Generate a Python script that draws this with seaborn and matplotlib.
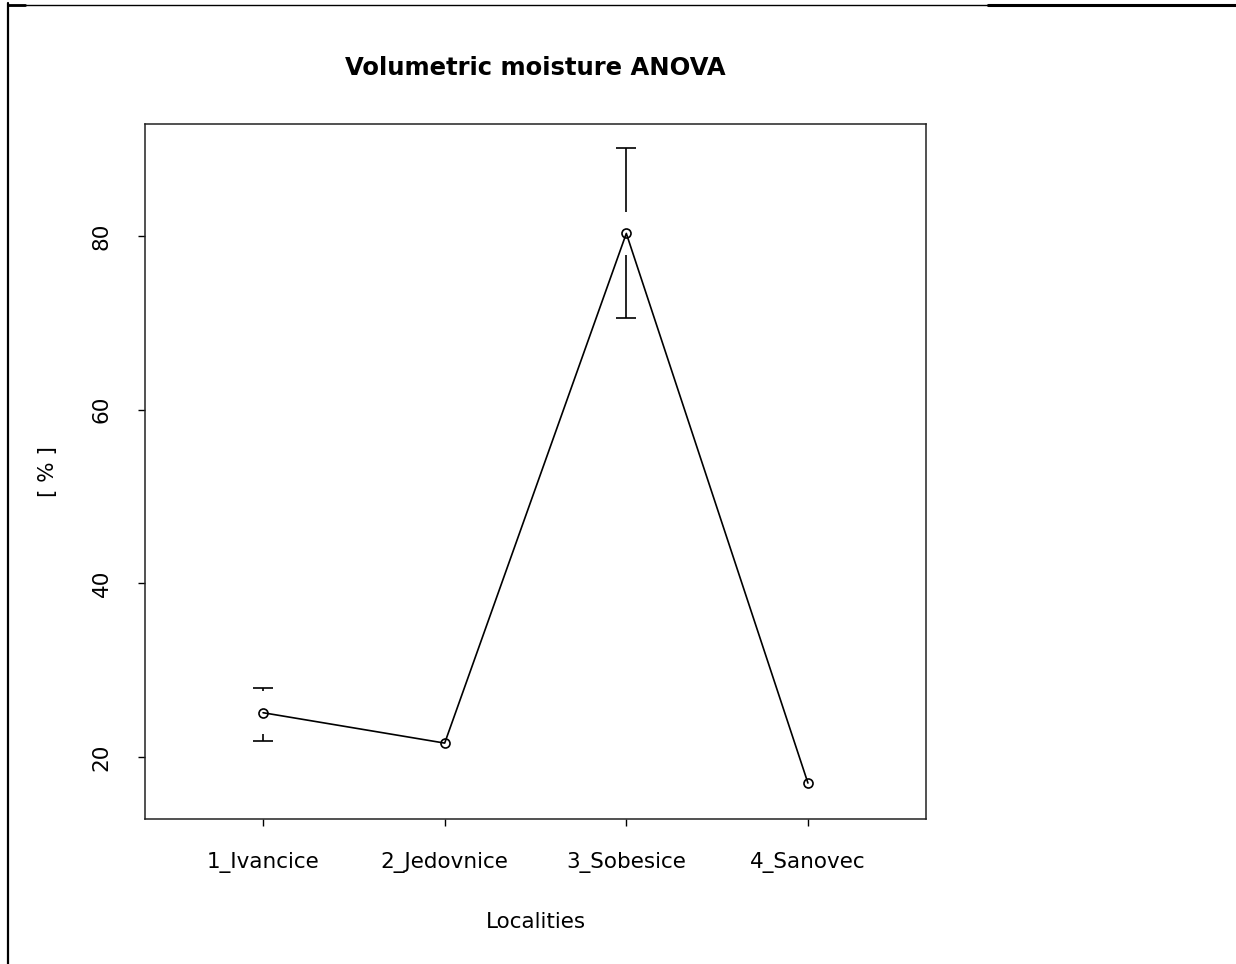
import numpy as np
import pandas as pd
import matplotlib
matplotlib.use("Agg")
import matplotlib.pyplot as plt
import seaborn as sns
from matplotlib.lines import Line2D

# values
localities = ["1_Ivancice", "2_Jedovnice", "3_Sobesice", "4_Sanovec"]
means = [25.1, 21.6, 80.3, 17.0]
upper = [28.0, 21.6, 90.1, 17.0]
lower = [21.8, 21.6, 70.6, 17.0]
yticks = [20, 40, 60, 80]

sns.set_style("white")
plt.rcParams['font.family'] = ['DejaVu Sans']
plt.rcParams['text.color'] = 'black'
plt.rcParams['axes.labelcolor'] = 'black'
plt.rcParams['xtick.color'] = 'black'
plt.rcParams['ytick.color'] = 'black'

df = pd.DataFrame({"pos": np.arange(1, len(localities) + 1), "mean": means,
                   "upper": upper, "lower": lower})

fig = plt.figure(figsize=(12.36, 9.64), dpi=100)
ax = fig.add_axes([145 / 1236, 1 - 819 / 964, 781 / 1236, 695 / 964])

sns.lineplot(data=df, x="pos", y="mean", ax=ax, color="black", lw=1.2,
             marker="o", markersize=6.5, markerfacecolor="none",
             markeredgecolor="black", markeredgewidth=1.2)

# error bars with a gap around the mean, like plotmeans
gap = 2.5
cap = 0.055
for _, r in df.iterrows():
    if r["upper"] - r["mean"] > gap:
        ax.vlines(r["pos"], r["mean"] + gap, r["upper"], color="black", lw=1.2)
        ax.hlines(r["upper"], r["pos"] - cap, r["pos"] + cap, color="black", lw=1.2)
    if r["mean"] - r["lower"] > gap:
        ax.vlines(r["pos"], r["lower"], r["mean"] - gap, color="black", lw=1.2)
        ax.hlines(r["lower"], r["pos"] - cap, r["pos"] + cap, color="black", lw=1.2)

ax.set_xlim(0.35, 4.65)
ax.set_ylim(12.86, 92.9)
ax.set_xticks(df["pos"])
ax.set_xticklabels(localities)
ax.set_yticks(yticks)
ax.tick_params(axis="both", direction="out", length=5, width=1, color="black",
               labelsize=15.5, left=True, bottom=True)
ax.tick_params(axis="x", pad=19)
ax.tick_params(axis="y", pad=19, labelrotation=90)
for lab in ax.get_yticklabels():
    lab.set_va("center")

for s in ax.spines.values():
    s.set_visible(True)
    s.set_color("#222222")
    s.set_linewidth(1.1)

ax.set_xlabel("Localities", fontsize=15.5, labelpad=28)
ax.set_ylabel("[ % ]", fontsize=15.5, labelpad=24)
fig.text(535 / 1236, 1 - 68 / 964, "Volumetric moisture ANOVA", ha="center",
         va="center", fontsize=17.5, fontweight="bold")

# page frame around the screenshot
fig.add_artist(Line2D([8 / 1236, 8 / 1236], [0, 1 - 3 / 964], color="black", lw=1.6))
fig.add_artist(Line2D([8 / 1236, 988 / 1236], [1 - 4.5 / 964, 1 - 4.5 / 964], color="black", lw=1.0))
fig.add_artist(Line2D([8 / 1236, 25 / 1236], [1 - 5 / 964, 1 - 5 / 964], color="black", lw=2.0))
fig.add_artist(Line2D([988 / 1236, 1], [1 - 5 / 964, 1 - 5 / 964], color="black", lw=2.2))

fig.savefig("out.png", dpi=100)
